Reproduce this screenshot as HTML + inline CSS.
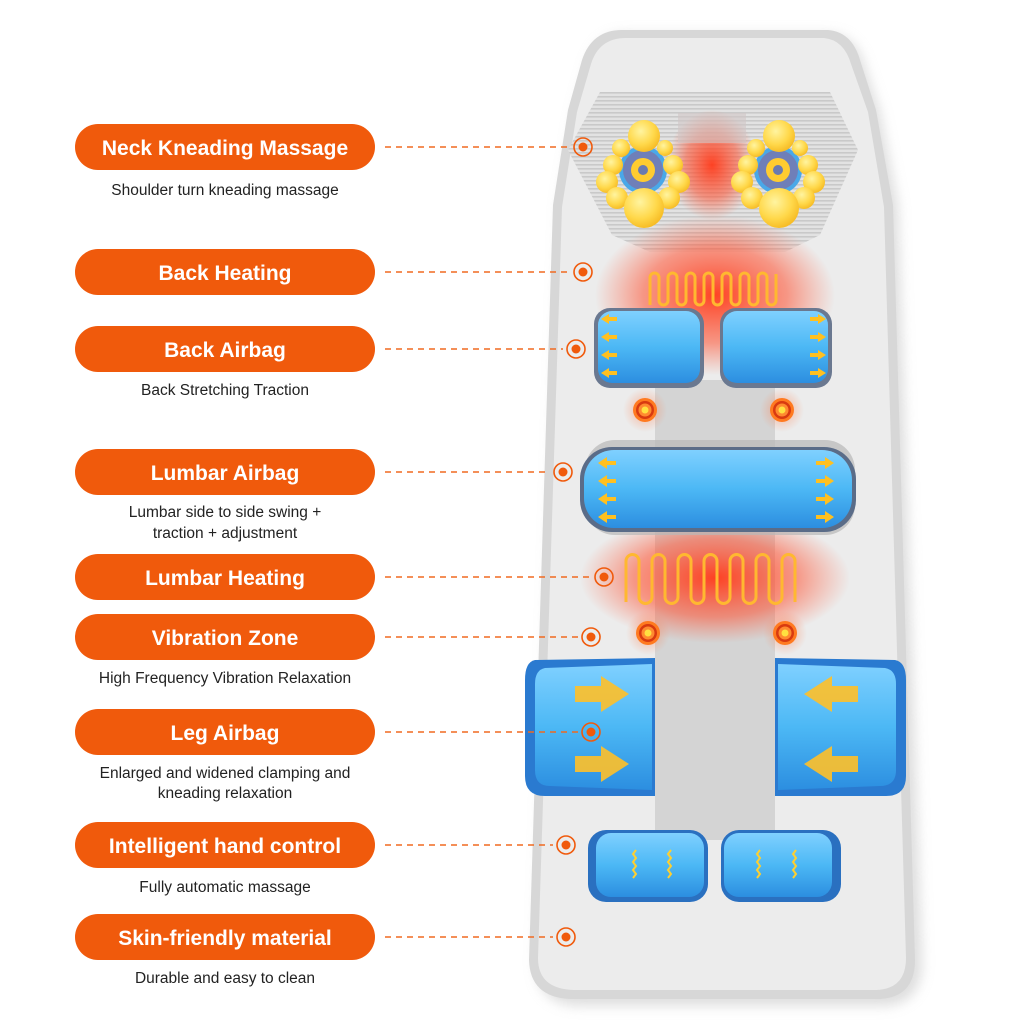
<!DOCTYPE html>
<html><head><meta charset="utf-8"><style>
html,body{margin:0;padding:0;background:#fff;}
svg{display:block;}
.p{fill:#f05a0c;}
.t{font-family:"Liberation Sans",sans-serif;font-weight:bold;font-size:21px;fill:#fff;text-anchor:middle;}
.s{font-family:"Liberation Sans",sans-serif;font-size:15.5px;fill:#222;text-anchor:middle;}
.d{stroke:#f06a20;stroke-width:1.6;stroke-dasharray:6 5;fill:none;}
.ball{fill:url(#yb);}
.ht{fill:none;stroke:#ffb830;stroke-width:3;stroke-linejoin:round;}
</style></head><body>
<svg width="1024" height="1024" viewBox="0 0 1024 1024" xmlns="http://www.w3.org/2000/svg">
<defs>
<radialGradient id="yb" cx="0.4" cy="0.35" r="0.7"><stop offset="0" stop-color="#fff4a0"/><stop offset="0.6" stop-color="#ffd84a"/><stop offset="1" stop-color="#f5b820"/></radialGradient>
<linearGradient id="bl" x1="0" y1="0" x2="0" y2="1"><stop offset="0" stop-color="#7fd0ff"/><stop offset="0.5" stop-color="#4cb8f5"/><stop offset="1" stop-color="#2c8ee0"/></linearGradient>
<radialGradient id="glow" cx="0.5" cy="0.5" r="0.5"><stop offset="0" stop-color="#ff3a1a" stop-opacity="0.95"/><stop offset="0.6" stop-color="#ff5030" stop-opacity="0.55"/><stop offset="1" stop-color="#ff6040" stop-opacity="0"/></radialGradient>
<radialGradient id="vg" cx="0.5" cy="0.5" r="0.5"><stop offset="0" stop-color="#ff6a30" stop-opacity="0.5"/><stop offset="1" stop-color="#ff8050" stop-opacity="0"/></radialGradient>
<pattern id="str" width="4" height="4" patternUnits="userSpaceOnUse"><rect width="4" height="4" fill="#e2e2e2"/><rect width="4" height="1.6" fill="#c9c9c9"/></pattern>
<filter id="sh" x="-10%" y="-10%" width="130%" height="130%"><feGaussianBlur stdDeviation="6"/></filter>
<g id="vb"><circle r="22" fill="url(#vg)"/><circle r="12" fill="#ff7a20"/><circle r="9" fill="#d83a10"/><circle r="6.5" fill="#ff8a30"/><circle r="3.5" fill="#ffe040"/></g>
<g id="tg0"><circle r="9" fill="none" stroke="#f05a0c" stroke-width="1.6"/><circle r="4.5" fill="#f05a0c"/></g>
</defs>

<!-- mat shadow -->
<path d="M625,34 L830,34 Q856,36 864,64 L880,112 L898,205 L922,962 Q922,1004 884,1006 L578,1006 Q536,1004 536,962 L560,205 L575,112 L588,64 Q598,34 625,34 Z" fill="#bdbdbd" opacity="0.5" filter="url(#sh)"/>
<!-- mat -->
<path d="M622,30 L828,30 Q852,32 860,60 L876,110 L893,205 L915,960 Q915,997 880,999 L570,999 Q530,997 529,960 L553,205 L568,110 L582,60 Q592,30 622,30 Z" fill="#d7d7d7"/>
<path d="M626,38 L824,38 Q844,40 851,64 L868,112 L884,207 L906,958 Q906,989 876,990 L574,990 Q538,989 538,958 L562,207 L577,112 L591,64 Q599,38 626,38 Z" fill="#ececec"/>
<!-- centre strip -->
<rect x="655" y="380" width="120" height="460" fill="#d4d4d4"/>

<!-- neck area -->
<path d="M600,92 L830,92 L858,150 L820,235 L785,252 L650,252 L612,235 L568,150 Z" fill="url(#str)"/>
<ellipse cx="712" cy="165" rx="45" ry="55" fill="url(#glow)"/>
<rect x="678" y="113" width="68" height="30" fill="#d0c6c6" opacity="0.6"/>

<!-- heat glows -->
<ellipse cx="715" cy="295" rx="120" ry="80" fill="url(#glow)"/>
<ellipse cx="715" cy="578" rx="135" ry="65" fill="url(#glow)"/>

<!-- neck ball clusters -->
<g id="cl" transform="translate(643,170)">
<circle r="24" fill="#4aa8e8"/><circle r="20" fill="#6f7fb8"/>
<circle cx="-22" cy="-22" r="9" class="ball"/><circle cx="22" cy="-22" r="8" class="ball"/>
<circle cx="-30" cy="-5" r="10" class="ball"/><circle cx="30" cy="-5" r="10" class="ball"/>
<circle cx="-36" cy="12" r="11" class="ball"/><circle cx="36" cy="12" r="11" class="ball"/>
<circle cx="-26" cy="28" r="11" class="ball"/><circle cx="26" cy="28" r="11" class="ball"/>
<circle cx="1" cy="-34" r="16" class="ball"/><circle cx="1" cy="38" r="20" class="ball"/>
<circle r="12" fill="#ffcc30"/><circle r="5" fill="#6a7ab0"/>
</g>
<use href="#cl" transform="translate(135,0)"/>

<!-- back heater -->
<path class="ht" d="M650 305 V277.5 A4.5 4.5 0 0 1 659 277.5 V300.5 A4.5 4.5 0 0 0 668 300.5 V277.5 A4.5 4.5 0 0 1 677 277.5 V300.5 A4.5 4.5 0 0 0 686 300.5 V277.5 A4.5 4.5 0 0 1 695 277.5 V300.5 A4.5 4.5 0 0 0 704 300.5 V277.5 A4.5 4.5 0 0 1 713 277.5 V300.5 A4.5 4.5 0 0 0 722 300.5 V277.5 A4.5 4.5 0 0 1 731 277.5 V300.5 A4.5 4.5 0 0 0 740 300.5 V277.5 A4.5 4.5 0 0 1 749 277.5 V300.5 A4.5 4.5 0 0 0 758 300.5 V277.5 A4.5 4.5 0 0 1 767 277.5 V300.5 A4.5 4.5 0 0 0 776 300.5 V274"/>
<!-- lumbar heater -->
<path class="ht" d="M626 602 V561 A6.5 6.5 0 0 1 639 561 V597 A6.5 6.5 0 0 0 652 597 V561 A6.5 6.5 0 0 1 665 561 V597 A6.5 6.5 0 0 0 678 597 V561 A6.5 6.5 0 0 1 691 561 V597 A6.5 6.5 0 0 0 704 597 V561 A6.5 6.5 0 0 1 717 561 V597 A6.5 6.5 0 0 0 730 597 V561 A6.5 6.5 0 0 1 743 561 V597 A6.5 6.5 0 0 0 756 597 V561 A6.5 6.5 0 0 1 769 561 V597 A6.5 6.5 0 0 0 782 597 V561 A6.5 6.5 0 0 1 795 561 V602"/>

<!-- back airbags -->
<rect x="594" y="308" width="110" height="80" rx="16" fill="#6a7890"/>
<rect x="598" y="311" width="102" height="72" rx="14" fill="url(#bl)"/>
<rect x="720" y="308" width="112" height="80" rx="16" fill="#6a7890"/>
<rect x="723" y="311" width="105" height="72" rx="14" fill="url(#bl)"/>
<g fill="#ffc020"><path d="M601,319 l8,-5 v3 h8 v4 h-8 v3z"/><path d="M601,337 l8,-5 v3 h8 v4 h-8 v3z"/><path d="M601,355 l8,-5 v3 h8 v4 h-8 v3z"/><path d="M601,373 l8,-5 v3 h8 v4 h-8 v3z"/>
<path d="M826,319 l-8,-5 v3 h-8 v4 h8 v3z"/><path d="M826,337 l-8,-5 v3 h-8 v4 h8 v3z"/><path d="M826,355 l-8,-5 v3 h-8 v4 h8 v3z"/><path d="M826,373 l-8,-5 v3 h-8 v4 h8 v3z"/></g>

<!-- lumbar airbag -->
<rect x="585" y="440" width="270" height="95" rx="30" fill="#b8b8b8" opacity="0.7"/>
<rect x="580" y="447" width="276" height="85" rx="32" fill="#5a6c88"/>
<rect x="584" y="450" width="268" height="78" rx="30" fill="url(#bl)"/>
<g fill="#ffc020"><path d="M598,463 l9,-6 v4 h9 v4 h-9 v4z"/><path d="M598,481 l9,-6 v4 h9 v4 h-9 v4z"/><path d="M598,499 l9,-6 v4 h9 v4 h-9 v4z"/><path d="M598,517 l9,-6 v4 h9 v4 h-9 v4z"/>
<path d="M834,463 l-9,-6 v4 h-9 v4 h9 v4z"/><path d="M834,481 l-9,-6 v4 h-9 v4 h9 v4z"/><path d="M834,499 l-9,-6 v4 h-9 v4 h9 v4z"/><path d="M834,517 l-9,-6 v4 h-9 v4 h9 v4z"/></g>

<!-- vibration -->
<use href="#vb" x="645" y="410"/><use href="#vb" x="782" y="410"/>
<use href="#vb" x="648" y="633"/><use href="#vb" x="785" y="633"/>

<!-- leg airbags -->
<path d="M535,660 L655,658 L655,796 L545,796 Q525,796 525,776 L525,680 Q525,662 535,660Z" fill="#2a7ad0"/>
<path d="M545,668 L652,664 L652,790 L550,786 Q535,786 535,770 L535,684 Q535,670 545,668Z" fill="url(#bl)"/>
<path d="M775,658 L895,660 Q906,662 906,680 L906,776 Q906,796 886,796 L775,796Z" fill="#2a7ad0"/>
<path d="M778,664 L885,668 Q896,670 896,684 L896,770 Q896,786 880,786 L778,790Z" fill="url(#bl)"/>
<g fill="#ffc028"><path d="M575,686 h26 v-10 l28,18 l-28,18 v-10 h-26z" opacity="0.9"/><path d="M575,756 h26 v-10 l28,18 l-28,18 v-10 h-26z" opacity="0.9"/>
<path d="M858,686 h-26 v-10 l-28,18 l28,18 v-10 h26z" opacity="0.9"/><path d="M858,756 h-26 v-10 l-28,18 l28,18 v-10 h26z" opacity="0.9"/></g>

<!-- small foot airbags -->
<rect x="588" y="830" width="120" height="72" rx="18" fill="#2a70c0"/>
<rect x="596" y="833" width="108" height="64" rx="15" fill="url(#bl)"/>
<rect x="721" y="830" width="120" height="72" rx="18" fill="#2a70c0"/>
<rect x="724" y="833" width="108" height="64" rx="15" fill="url(#bl)"/>
<g fill="none" stroke="#ffd030" stroke-width="2"><path d="M636,850 l-3,4 l3,4 l-3,4 l3,4 l-3,4 l3,4 l-3,4"/><path d="M671,850 l-3,4 l3,4 l-3,4 l3,4 l-3,4 l3,4 l-3,4"/><path d="M760,850 l-3,4 l3,4 l-3,4 l3,4 l-3,4 l3,4 l-3,4"/><path d="M796,850 l-3,4 l3,4 l-3,4 l3,4 l-3,4 l3,4 l-3,4"/></g>

<!-- dashed leaders and target markers -->
<g>
<line class="d" x1="385" y1="147" x2="570" y2="147"/>
<line class="d" x1="385" y1="272" x2="570" y2="272"/>
<line class="d" x1="385" y1="349" x2="563" y2="349"/>
<line class="d" x1="385" y1="472" x2="550" y2="472"/>
<line class="d" x1="385" y1="577" x2="591" y2="577"/>
<line class="d" x1="385" y1="637" x2="578" y2="637"/>
<line class="d" x1="385" y1="732" x2="578" y2="732"/>
<line class="d" x1="385" y1="845" x2="553" y2="845"/>
<line class="d" x1="385" y1="937" x2="553" y2="937"/>
</g>
<use href="#tg0" x="583" y="147"/><use href="#tg0" x="583" y="272"/><use href="#tg0" x="576" y="349"/>
<use href="#tg0" x="563" y="472"/><use href="#tg0" x="604" y="577"/><use href="#tg0" x="591" y="637"/>
<use href="#tg0" x="591" y="732"/><use href="#tg0" x="566" y="845"/><use href="#tg0" x="566" y="937"/>

<!-- labels -->
<rect class="p" x="75" y="124" width="300" height="46" rx="23"/><text class="t" x="225" y="155">Neck Kneading Massage</text>
<text class="s" x="225" y="195">Shoulder turn kneading massage</text>
<rect class="p" x="75" y="249" width="300" height="46" rx="23"/><text class="t" x="225" y="280">Back Heating</text>
<rect class="p" x="75" y="326" width="300" height="46" rx="23"/><text class="t" x="225" y="357">Back Airbag</text>
<text class="s" x="225" y="395">Back Stretching Traction</text>
<rect class="p" x="75" y="449" width="300" height="46" rx="23"/><text class="t" x="225" y="480">Lumbar Airbag</text>
<text class="s" x="225" y="517">Lumbar side to side swing +</text>
<text class="s" x="225" y="538">traction + adjustment</text>
<rect class="p" x="75" y="554" width="300" height="46" rx="23"/><text class="t" x="225" y="585">Lumbar Heating</text>
<rect class="p" x="75" y="614" width="300" height="46" rx="23"/><text class="t" x="225" y="645">Vibration Zone</text>
<text class="s" x="225" y="683">High Frequency Vibration Relaxation</text>
<rect class="p" x="75" y="709" width="300" height="46" rx="23"/><text class="t" x="225" y="740">Leg Airbag</text>
<text class="s" x="225" y="778">Enlarged and widened clamping and</text>
<text class="s" x="225" y="798">kneading relaxation</text>
<rect class="p" x="75" y="822" width="300" height="46" rx="23"/><text class="t" x="225" y="853">Intelligent hand control</text>
<text class="s" x="225" y="892">Fully automatic massage</text>
<rect class="p" x="75" y="914" width="300" height="46" rx="23"/><text class="t" x="225" y="945">Skin-friendly material</text>
<text class="s" x="225" y="983">Durable and easy to clean</text>
</svg>
</body></html>
